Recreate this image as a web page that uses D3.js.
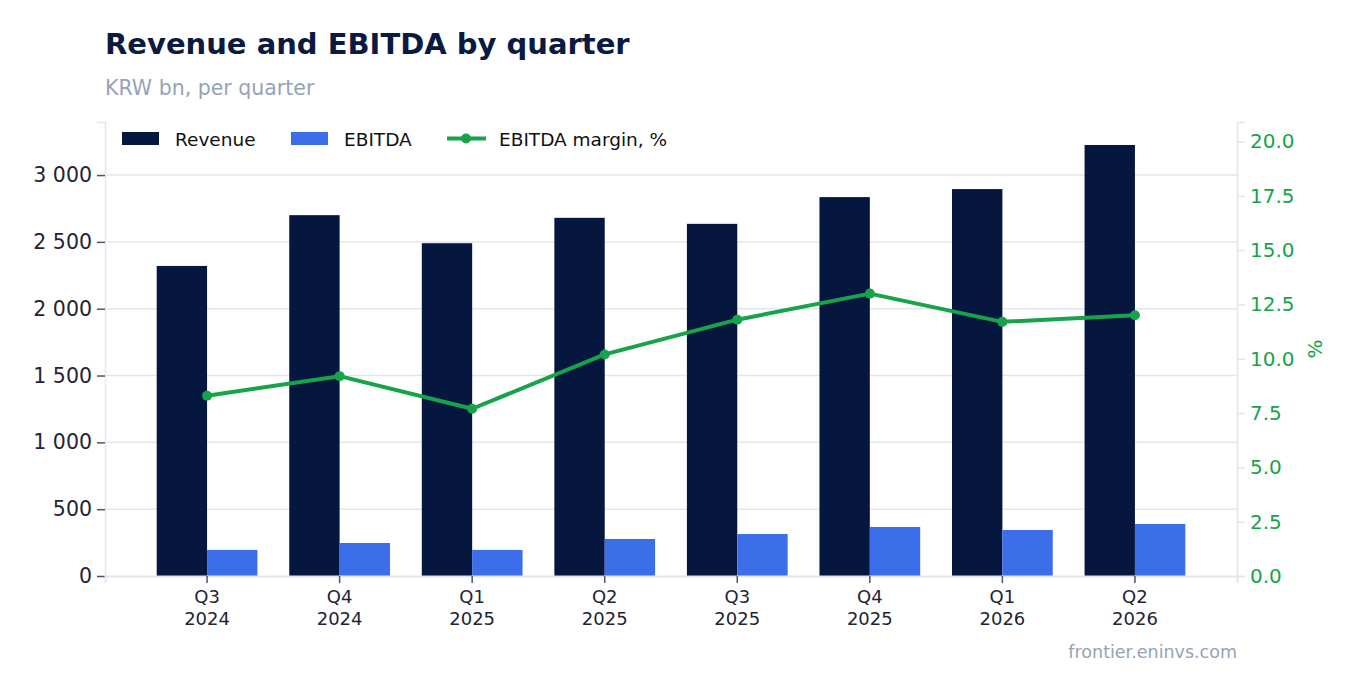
<!DOCTYPE html>
<html>
<head>
<meta charset="utf-8">
<script src="https://cdn.jsdelivr.net/npm/d3@7"></script>
<style>
  body { margin: 0; background: #fff; }
  svg, svg text { font-family: "DejaVu Sans", sans-serif; }
</style>
</head>
<body>
<div id="chart"></div>
<script>
// data
var quarters = ["Q3 2024", "Q4 2024", "Q1 2025", "Q2 2025", "Q3 2025", "Q4 2025", "Q1 2026", "Q2 2026"];
var revenue = [2320, 2700, 2490, 2680, 2635, 2835, 2895, 3225];
var ebitda = [195, 247, 195, 277, 314, 367, 344, 389];
var margin = [8.3, 9.2, 7.7, 10.2, 11.8, 13.0, 11.7, 12.0];
var leftTicks = [0, 500, 1000, 1500, 2000, 2500, 3000];
var rightTicks = [0, 2.5, 5, 7.5, 10, 12.5, 15, 17.5, 20];

var W = 1356, H = 693;
var plot = { left: 105, right: 1237, top: 122, bottom: 576 };

var navy = "#05163f", blue = "#3b6ee8", green = "#16a34a";
var gridCol = "#e2e6ee", tickCol = "#4b5563", textCol = "#1f2433";

var svg = d3.select("#chart").append("svg")
    .attr("width", W)
    .attr("height", H);

// scales
var x = d3.scaleBand()
    .domain(quarters)
    .range([plot.left, plot.right])
    .paddingInner(0.24)
    .paddingOuter(0.39);

var xSub = d3.scaleBand()
    .domain(["rev", "ebitda"])
    .range([0, x.bandwidth()]);

var yL = d3.scaleLinear().domain([0, 3397]).range([plot.bottom, plot.top]);
var yR = d3.scaleLinear().domain([0, 20.9]).range([plot.bottom, plot.top]);

var spaceFmt = d3.formatLocale({ decimal: ".", thousands: " ", grouping: [3], currency: ["", ""] }).format(",");

// grid lines
svg.append("g")
    .selectAll("line")
    .data(leftTicks.filter(function (d) { return d > 0; }))
    .join("line")
    .attr("x1", plot.left)
    .attr("x2", plot.right)
    .attr("y1", function (d) { return yL(d); })
    .attr("y2", function (d) { return yL(d); })
    .attr("stroke", gridCol)
    .attr("stroke-width", 1.5);

// bars
var groups = svg.append("g")
    .selectAll("g")
    .data(quarters)
    .join("g")
    .attr("transform", function (d) { return "translate(" + x(d) + ",0)"; });

groups.append("rect")
    .attr("x", xSub("rev"))
    .attr("width", xSub.bandwidth())
    .attr("y", function (d, i) { return yL(revenue[i]); })
    .attr("height", function (d, i) { return yL(0) - yL(revenue[i]); })
    .attr("fill", navy);

groups.append("rect")
    .attr("x", xSub("ebitda"))
    .attr("width", xSub.bandwidth())
    .attr("y", function (d, i) { return yL(ebitda[i]); })
    .attr("height", function (d, i) { return yL(0) - yL(ebitda[i]); })
    .attr("fill", blue);

// left axis
var gL = svg.append("g")
    .attr("transform", "translate(" + plot.left + ",0)")
    .call(d3.axisLeft(yL).tickValues(leftTicks).tickFormat(spaceFmt).tickSize(8).tickPadding(5));
gL.attr("font-family", null);
gL.select(".domain").attr("stroke", gridCol).attr("stroke-width", 1.5);
gL.selectAll(".tick line").attr("stroke", tickCol).attr("stroke-width", 1.5);
gL.selectAll(".tick text").attr("fill", textCol).style("font-size", "20.5px");

// right axis
var gR = svg.append("g")
    .attr("transform", "translate(" + plot.right + ",0)")
    .call(d3.axisRight(yR).tickValues(rightTicks).tickFormat(d3.format(".1f")).tickSize(8).tickPadding(5));
gR.attr("font-family", null);
gR.select(".domain").attr("stroke", gridCol).attr("stroke-width", 1.5);
gR.selectAll(".tick line").attr("stroke", gridCol).attr("stroke-width", 1.5);
gR.selectAll(".tick text").attr("fill", green).style("font-size", "20px");

svg.append("text")
    .attr("transform", "translate(1322," + (plot.top + plot.bottom) / 2 + ") rotate(-90)")
    .attr("text-anchor", "middle")
    .attr("fill", green)
    .style("font-size", "20px")
    .text("%");

// bottom axis
var gB = svg.append("g")
    .attr("transform", "translate(0," + plot.bottom + ")")
    .call(d3.axisBottom(x).tickSize(7).tickFormat(""));
gB.attr("font-family", null);
gB.select(".domain").attr("stroke", gridCol).attr("stroke-width", 2);
gB.selectAll(".tick line").attr("stroke", tickCol).attr("stroke-width", 1.5);
gB.selectAll(".tick").append("text")
    .attr("text-anchor", "middle")
    .attr("fill", textCol)
    .style("font-size", "18px")
    .selectAll("tspan")
    .data(function (d) { return d.split(" "); })
    .join("tspan")
    .attr("x", 0)
    .attr("y", function (d, i) { return 27 + i * 21.5; })
    .text(function (d) { return d; });

// margin line
var line = d3.line()
    .x(function (d, i) { return x(quarters[i]) + x.bandwidth() / 2; })
    .y(function (d) { return yR(d); });

svg.append("path")
    .datum(margin)
    .attr("d", line)
    .attr("fill", "none")
    .attr("stroke", green)
    .attr("stroke-width", 4)
    .attr("stroke-linejoin", "round");

svg.append("g")
    .selectAll("circle")
    .data(margin)
    .join("circle")
    .attr("cx", function (d, i) { return x(quarters[i]) + x.bandwidth() / 2; })
    .attr("cy", function (d) { return yR(d); })
    .attr("r", 5)
    .attr("fill", green);

// legend
var legend = svg.append("g").style("font-size", "18.5px").attr("fill", "#111");
legend.append("rect").attr("x", 122).attr("y", 132).attr("width", 37).attr("height", 13).attr("fill", navy);
legend.append("text").attr("x", 175).attr("y", 146).text("Revenue");
legend.append("rect").attr("x", 291).attr("y", 132).attr("width", 37).attr("height", 13).attr("fill", blue);
legend.append("text").attr("x", 344).attr("y", 146).text("EBITDA");
legend.append("line").attr("x1", 447).attr("x2", 486).attr("y1", 138.5).attr("y2", 138.5)
    .attr("stroke", green).attr("stroke-width", 4);
legend.append("circle").attr("cx", 466).attr("cy", 138.5).attr("r", 5).attr("fill", green);
legend.append("text").attr("x", 499).attr("y", 146).text("EBITDA margin, %");

// titles
svg.append("text")
    .attr("x", 105).attr("y", 54)
    .attr("fill", "#0b1a40")
    .style("font-size", "29px")
    .style("font-weight", "bold")
    .text("Revenue and EBITDA by quarter");

svg.append("text")
    .attr("x", 105).attr("y", 95)
    .attr("fill", "#94a3b8")
    .style("font-size", "20.5px")
    .text("KRW bn, per quarter");

svg.append("text")
    .attr("x", plot.right).attr("y", 658)
    .attr("text-anchor", "end")
    .attr("fill", "#94a3b8")
    .style("font-size", "17.5px")
    .text("frontier.eninvs.com");
</script>
</body>
</html>
